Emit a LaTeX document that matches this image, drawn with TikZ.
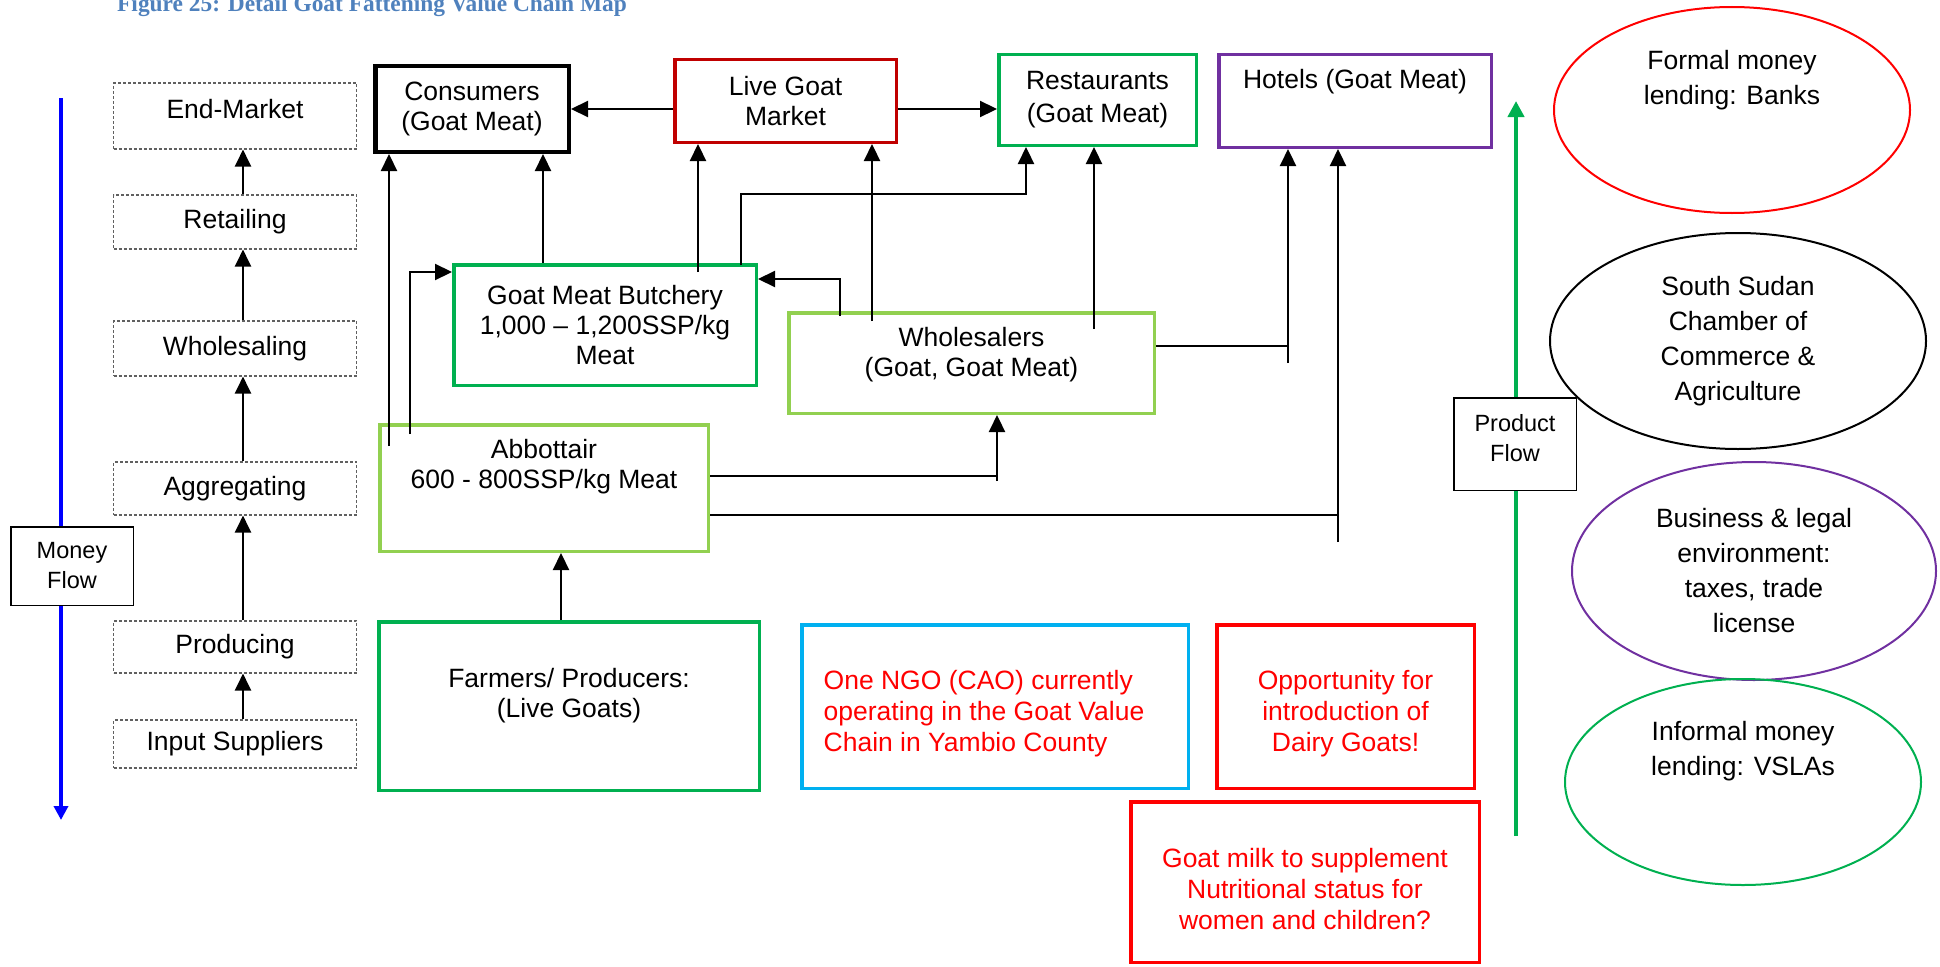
\documentclass[tikz,border=0pt]{standalone}
\usepackage{fontspec}
\setmainfont{Liberation Sans}
\newfontfamily\titlefont{Liberation Serif}
\usetikzlibrary{arrows.meta,shapes.geometric,calc}

\definecolor{cgreen}{HTML}{00B050}
\definecolor{clight}{HTML}{92D050}
\definecolor{cdkred}{HTML}{C00000}
\definecolor{cred}{HTML}{FF0000}
\definecolor{cpurple}{HTML}{7030A0}
\definecolor{csky}{HTML}{00B0F0}
\definecolor{cblue}{HTML}{0000FF}
\definecolor{ctitle}{HTML}{4F81BD}
\definecolor{cdash}{HTML}{606060}

\tikzset{
  txt/.style={font=\fontsize{26.5}{30}\selectfont, align=center, inner sep=0pt},
  redtxt/.style={font=\fontsize{26.5}{31}\selectfont, text=cred, align=center, inner sep=0pt},
  etxt/.style={font=\fontsize{26.5}{35}\selectfont, align=center, inner sep=0pt},
  ftxt/.style={font=\fontsize{23.5}{30}\selectfont, align=center, inner sep=0pt},
  box/.style={rectangle, draw=#1, line width=3.5pt, fill=white, inner sep=0pt},
  flowbox/.style={rectangle, draw=black, line width=1.5pt, fill=white, inner sep=0pt},
  stage/.style={rectangle, draw=cdash, line width=1.1pt, dash pattern=on 3pt off 2pt,
                minimum width=243pt, inner sep=0pt},
  conn/.style={line width=2.2pt, draw=black},
  arr/.style={conn, -{Triangle[length=17pt,width=16pt]}},
  oval/.style={ellipse, draw=#1, line width=2pt, inner sep=0pt},
}

\begin{document}
\begin{tikzpicture}[x=1pt,y=-1pt]
\useasboundingbox (0,0) rectangle (1940,966);

% caption
\node[anchor=base west, inner sep=0pt, text=ctitle,
      font=\titlefont\bfseries\fontsize{23.4}{28}\selectfont] (title) at (117,12)
      {Figure 25: Detail Goat Fattening Value Chain Map};

% money flow and product flow axes (drawn first, labels sit on top)
\draw[line width=4pt, cblue, -{Triangle[length=14pt,width=14pt]}] (61,98) -- (61,820);
\draw[line width=4pt, cgreen, -{Triangle[length=16pt,width=16pt]}] (1516,836) -- (1516,101);
\node[flowbox, minimum width=122.5pt, minimum height=78.5pt,
      label={[ftxt]center:Money\\Flow}] (money) at (72,566) {};
\node[flowbox, minimum width=122.5pt, minimum height=92.5pt,
      label={[ftxt, yshift=6pt]center:Product\\Flow}] (pflow) at (1515,444) {};

% value chain stages
\node[stage, minimum height=66pt, label={[txt, yshift=7pt]center:End-Market}] (stEnd) at (235,116) {};
\node[stage, minimum height=54pt, label={[txt]center:Retailing}] (stRet) at (235,222) {};
\node[stage, minimum height=55pt, label={[txt]center:Wholesaling}] (stWhs) at (235,348.5) {};
\node[stage, minimum height=53pt, label={[txt]center:Aggregating}] (stAgg) at (235,488.5) {};
\node[stage, minimum height=52pt, label={[txt]center:Producing}] (stProd) at (235,647) {};
\node[stage, minimum height=48pt, label={[txt]center:Input Suppliers}] (stInp) at (235,744) {};
\coordinate (colx) at (243,0);
\foreach \lo/\hi in {stInp/stProd, stProd/stAgg, stAgg/stWhs, stWhs/stRet, stRet/stEnd}
  \draw[arr] (\lo.north -| colx) -- (\hi.south -| colx);

% actors
\node[box=black, line width=4.5pt, minimum width=193.5pt, minimum height=85.5pt,
      label={[txt]center:Consumers\\(Goat Meat)}] (cons) at (472,109) {};
\node[box=cdkred, minimum width=221.5pt, minimum height=82.5pt,
      label={[txt]center:Live Goat\\Market}] (lgm) at (785.5,101) {};
\node[box=cgreen, minimum width=197.5pt, minimum height=90.5pt,
      label={[txt, font=\fontsize{26.5}{33}\selectfont]center:Restaurants\\(Goat Meat)}] (rest) at (1097.5,100) {};
\node[box=cpurple, minimum width=272.5pt, minimum height=92.5pt,
      label={[txt, yshift=19pt]center:Hotels (Goat Meat)}] (hot) at (1355,101) {};
\node[box=cgreen, minimum width=302.5pt, minimum height=120.5pt,
      label={[txt]center:Goat Meat Butchery\\1,000 – 1,200SSP/kg\\Meat}] (butch) at (605,325) {};
\node[box=clight, minimum width=365.5pt, minimum height=100.5pt,
      label={[txt, yshift=8.5pt]center:Wholesalers\\(Goat, Goat Meat)}] (whole) at (971.5,363) {};
\node[box=clight, minimum width=328.5pt, minimum height=126.5pt,
      label={[txt, yshift=21.5pt]center:Abbottair\\600 - 800SSP/kg Meat}] (abb) at (544,488) {};
\node[box=cgreen, minimum width=380.5pt, minimum height=168.5pt,
      label={[txt, yshift=10.5pt]center:Farmers/ Producers:\\(Live Goats)}] (farm) at (569,706) {};

% notes
\node[box=csky, minimum width=386.5pt, minimum height=163.5pt,
      label={[redtxt, align=left, yshift=-7pt, xshift=-11pt]center:One NGO (CAO) currently\\operating in the Goat Value\\Chain in Yambio County}] (ngo) at (995,706.5) {};
\node[box=cred, minimum width=257.5pt, minimum height=163.5pt,
      label={[redtxt, yshift=-7pt]center:Opportunity for\\introduction of\\Dairy Goats!}] (opp) at (1345.5,706.5) {};
\node[box=cred, minimum width=348.5pt, minimum height=160.5pt,
      label={[redtxt, yshift=-7pt]center:Goat milk to supplement\\Nutritional status for\\women and children?}] (milk) at (1305,882) {};

% enabling environment
\node[oval=cred, minimum width=356pt, minimum height=206pt,
      label={[etxt, yshift=30pt]center:Formal money\\lending: Banks}] (banks) at (1732,110) {};
\node[oval=black, minimum width=376pt, minimum height=216pt,
      label={[etxt]center:South Sudan\\Chamber of\\Commerce \&\\Agriculture}] (chamber) at (1738,341) {};
\node[oval=cpurple, minimum width=364pt, minimum height=218pt,
      label={[etxt]center:Business \& legal\\environment:\\taxes, trade\\license}] (legal) at (1754,571) {};
\node[oval=cgreen, minimum width=356pt, minimum height=206pt,
      label={[etxt, yshift=31pt]center:Informal money\\lending: VSLAs}] (vsla) at (1743,782) {};

% live goat market outlets
\coordinate (lgmL) at ($(lgm.west)+(0,8)$);
\coordinate (lgmR) at ($(lgm.east)+(0,8)$);
\draw[arr] (lgmL) -- (cons.east |- lgmL);
\draw[arr] (lgmR) -- (rest.west |- lgmR);

% abattoir to consumers and butchery
\coordinate (aA) at (389,446);
\draw[arr] (aA) -- (aA |- cons.south);
\coordinate (aB) at (410,434);
\coordinate (aB2) at (410,272);
\draw[arr] (aB) -- (aB2) -- (butch.west |- aB2);

% butchery outlets
\coordinate (bc) at (543,0);
\draw[arr] (butch.north -| bc) -- (cons.south -| bc);
\coordinate (bm) at (698,272);
\draw[arr] (bm) -- (bm |- lgm.south);
\coordinate (br) at (741,265);
\coordinate (br2) at (1026,194);
\draw[arr] (br) |- (br2) -- (br2 |- rest.south);

% wholesaler outlets
\coordinate (wm) at (872,321);
\draw[arr] (wm) -- (wm |- lgm.south);
\coordinate (wb) at (840,316);
\coordinate (wb2) at (840,279);
\draw[arr] (wb) -- (wb2) -- (butch.east |- wb2);
\coordinate (wr) at (1094,329);
\draw[arr] (wr) -- (wr |- rest.south);
\coordinate (wh) at (1288,363);
\coordinate (wh1) at (1288,346);
\draw[conn] (wh1 -| whole.east) -- (wh1);
\draw[arr] (wh) -- (wh |- hot.south);

% abattoir outlets
\coordinate (aw) at (997,481);
\coordinate (aw1) at (997,476);
\draw[conn] (aw1 -| abb.east) -- (aw1);
\draw[arr] (aw) -- (aw |- whole.south);
\coordinate (ah) at (1338,542);
\coordinate (ah1) at (1338,515);
\draw[conn] (ah1 -| abb.east) -- (ah1);
\draw[arr] (ah) -- (ah |- hot.south);

% producers to abattoir
\coordinate (fa) at (561,0);
\draw[arr] (farm.north -| fa) -- (abb.south -| fa);
\end{tikzpicture}
\end{document}
